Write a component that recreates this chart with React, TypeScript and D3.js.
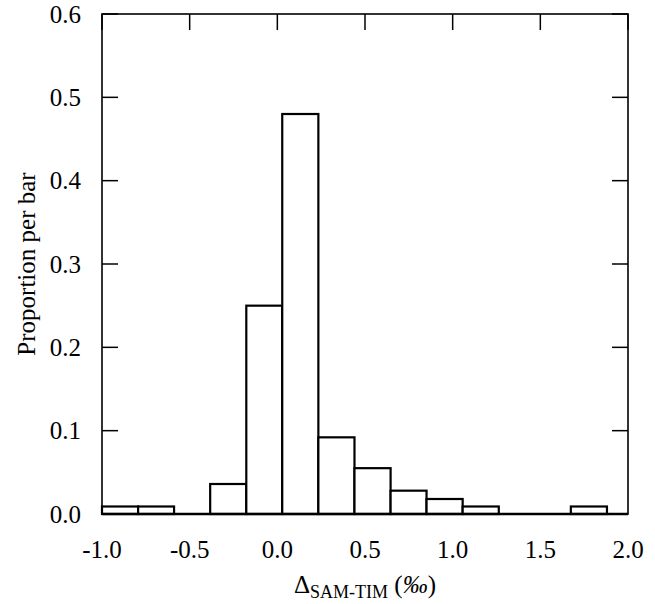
import React from "react";
import * as d3 from "d3";

// bin left edges (‰) and proportions
const binEdges = [-1.0, -0.794, -0.589, -0.383, -0.177, 0.028, 0.234, 0.44, 0.646, 0.851, 1.057, 1.263, 1.469, 1.674, 1.88];
const proportions = [0.009, 0.009, 0, 0.036, 0.25, 0.48, 0.092, 0.055, 0.028, 0.018, 0.009, 0, 0, 0.009];
const xTicks = [-1.0, -0.5, 0.0, 0.5, 1.0, 1.5, 2.0];
const yTicks = [0.0, 0.1, 0.2, 0.3, 0.4, 0.5, 0.6];

const FONT = "'Liberation Serif', 'Times New Roman', Tinos, Times, 'DejaVu Serif', serif";
const fmt = (v: number) => v.toFixed(1);

export default function App() {
  const x = d3.scaleLinear().domain([-1, 2]).range([102, 628]);
  const y = d3.scaleLinear().domain([0, 0.6]).range([514, 14]);
  const [x0, x1] = x.range();
  const [yb, yt] = y.range();
  const tickLen = 16;

  return (
    <svg width={655} height={604} style={{ position: "absolute", left: 0, top: 0, background: "#fff" }}>
      {/* bars */}
      {proportions.map((p, i) => {
        if (p === 0) return null;
        const a = x(binEdges[i]);
        const b = x(binEdges[i + 1]);
        return (
          <rect key={i} x={a} y={y(p)} width={b - a} height={yb - y(p)}
            fill="#fff" stroke="#000" strokeWidth={2.2} />
        );
      })}
      {/* frame */}
      <rect x={x0} y={yt} width={x1 - x0} height={yb - yt} fill="none" stroke="#000" strokeWidth={1.6} />
      <line x1={x0} x2={x1} y1={yb} y2={yb} stroke="#000" strokeWidth={2.4} />
      {/* x ticks */}
      {xTicks.map((t) => (
        <g key={t}>
          <line x1={x(t)} x2={x(t)} y1={yt} y2={yt + tickLen} stroke="#000" strokeWidth={1.5} />
          <text x={x(t)} y={558} textAnchor="middle" fontFamily={FONT} fontSize={25}>
            {fmt(t)}
          </text>
        </g>
      ))}
      {/* y ticks */}
      {yTicks.map((t) => (
        <g key={t}>
          <line x1={x0} x2={x0 + tickLen} y1={y(t)} y2={y(t)} stroke="#000" strokeWidth={1.5} />
          <line x1={x1} x2={x1 - tickLen} y1={y(t)} y2={y(t)} stroke="#000" strokeWidth={1.5} />
          <text x={81} y={y(t)} dy="0.35em" textAnchor="end" fontFamily={FONT} fontSize={25}>
            {fmt(t)}
          </text>
        </g>
      ))}
      {/* axis titles */}
      <text transform={`translate(35,${(yb + yt) / 2}) rotate(-90)`} textAnchor="middle"
        fontFamily={FONT} fontSize={25}>Proportion per bar</text>
      <text x={365} y={593} textAnchor="middle" fontFamily={FONT} fontSize={25}>
        Δ<tspan fontSize={18} dy={5}>SAM-TIM</tspan>
        <tspan dy={-5}> (</tspan><tspan fontStyle="italic">‰</tspan>)
      </text>
    </svg>
  );
}
